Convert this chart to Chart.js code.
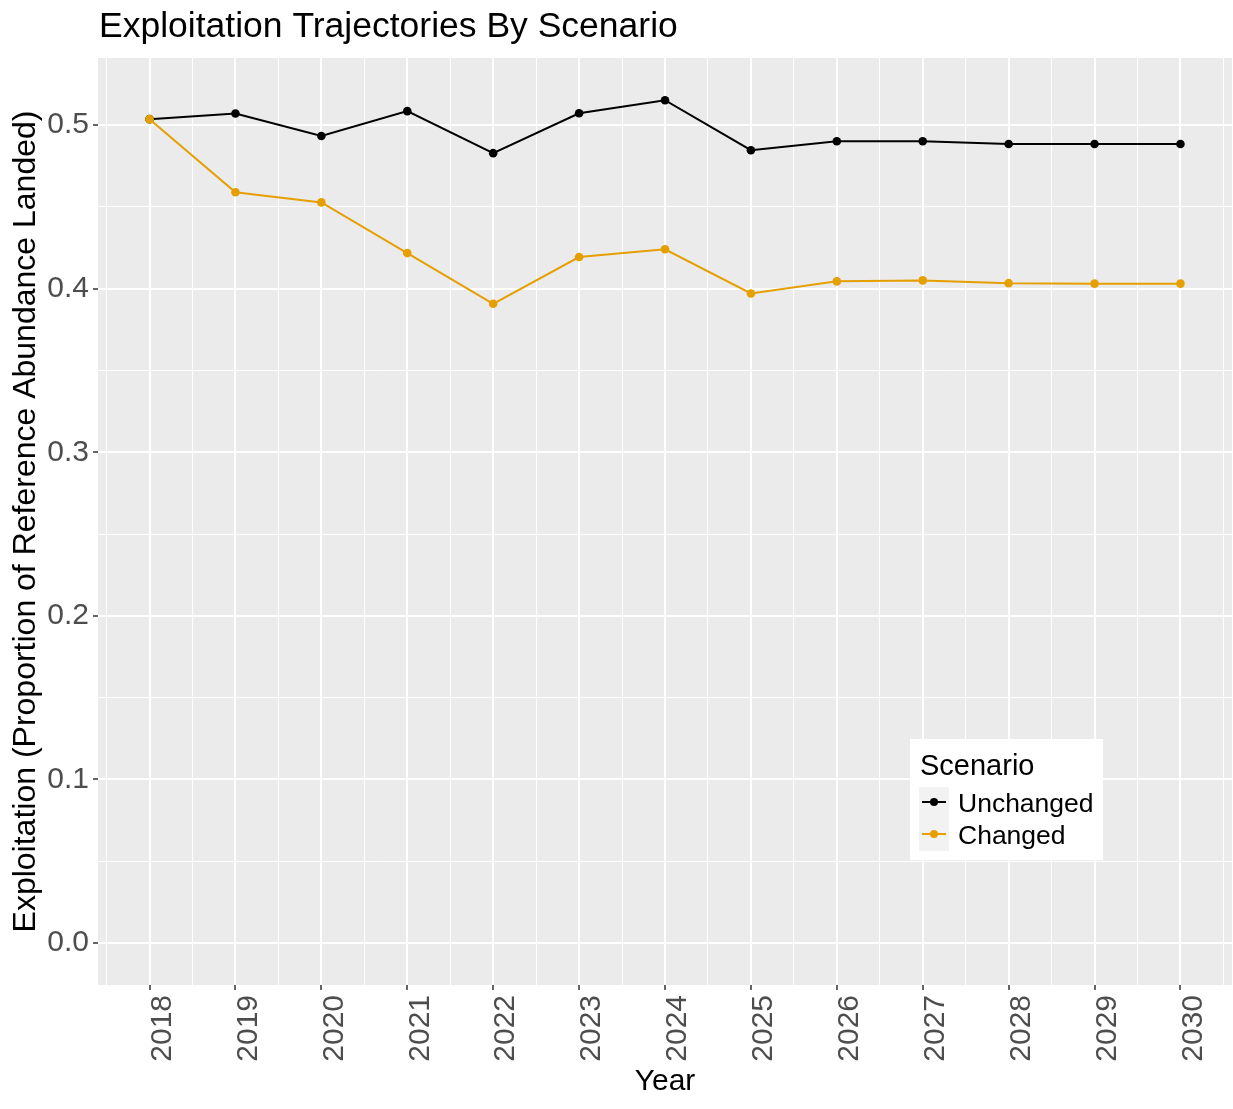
<!DOCTYPE html>
<html>
<head>
<meta charset="utf-8">
<title>Exploitation Trajectories By Scenario</title>
<script src="https://cdn.jsdelivr.net/npm/chart.js@4.4.1/dist/chart.umd.min.js"></script>
<style>
  body { margin: 0; background: #fff; overflow: hidden; }
  #wrap { width: 1233px; height: 1109px; }
  #chart { display: block; }
</style>
</head>
<body>
<div id="wrap"><canvas id="chart" width="1233" height="1109"></canvas></div>
<script>
// Data
const years = [2018, 2019, 2020, 2021, 2022, 2023, 2024, 2025, 2026, 2027, 2028, 2029, 2030];
const unchanged = [0.5037, 0.5072, 0.4934, 0.5086, 0.4829, 0.5073, 0.5153, 0.4847, 0.4902, 0.4902, 0.4885, 0.4885, 0.4885];
const changed = [0.5037, 0.4590, 0.4528, 0.4218, 0.3908, 0.4194, 0.4241, 0.3971, 0.4045, 0.4051, 0.4034, 0.4031, 0.4031];
const yTicks = [0, 0.1, 0.2, 0.3, 0.4, 0.5];
const seriesNames = ['Unchanged', 'Changed'];
const seriesColors = ['#000000', '#E69F00'];

const FONT = "'Liberation Sans', Arial, Helvetica, sans-serif";

function toPoints(values) {
    return years.map((y, i) => ({ x: y, y: values[i] }));
}

// major ticks plus the midpoints between them (ggplot minor grid)
function withMinors(majors, extraEnds) {
    const out = [];
    majors.forEach((v, i) => {
        if (i > 0) out.push((majors[i - 1] + v) / 2);
        out.push(v);
    });
    if (extraEnds) {
        const step = majors[1] - majors[0];
        out.unshift(majors[0] - step / 2);
        out.push(majors[majors.length - 1] + step / 2);
    }
    return out;
}

const isMajor = (v, majors) => majors.some(m => Math.abs(m - v) < 1e-6);

const panelBg = {
    id: 'panelBg',
    beforeDraw(chart) {
        const { ctx, chartArea: a } = chart;
        ctx.save();
        ctx.fillStyle = '#EBEBEB';
        ctx.fillRect(a.left, a.top, a.right - a.left, a.bottom - a.top);
        ctx.restore();
    }
};

// plot title (left aligned with the panel) and the in-panel legend
const extras = {
    id: 'extras',
    afterDraw(chart) {
        const ctx = chart.ctx;
        ctx.save();
        ctx.fillStyle = '#000';
        ctx.font = `35.5px ${FONT}`;
        ctx.textBaseline = 'alphabetic';
        ctx.textAlign = 'left';
        ctx.fillText('Exploitation Trajectories By Scenario', 99, 37);

        // legend box
        ctx.fillStyle = '#FFFFFF';
        ctx.fillRect(910, 739, 193, 121);
        ctx.fillStyle = '#000';
        ctx.font = `29px ${FONT}`;
        ctx.fillText('Scenario', 920, 775);
        ctx.fillStyle = '#F2F2F2';
        ctx.fillRect(919, 787, 30, 64);

        ctx.font = `26.5px ${FONT}`;
        chart.data.datasets.forEach(ds => {
            const i = seriesNames.indexOf(ds.label);
            const cy = 802 + i * 32;
            ctx.strokeStyle = ds.borderColor;
            ctx.lineWidth = 2;
            ctx.beginPath();
            ctx.moveTo(922, cy);
            ctx.lineTo(946, cy);
            ctx.stroke();
            ctx.fillStyle = ds.borderColor;
            ctx.beginPath();
            ctx.arc(934, cy, 4, 0, Math.PI * 2);
            ctx.fill();
            ctx.fillStyle = '#000';
            ctx.fillText(ds.label, 958, cy + 10);
        });
        ctx.restore();
    }
};

const xTickValues = withMinors(years, true);
const yTickValues = withMinors(yTicks, false);

new Chart(document.getElementById('chart'), {
    type: 'line',
    data: {
        datasets: [
            {
                label: seriesNames[0],
                data: toPoints(unchanged),
                borderColor: seriesColors[0],
                backgroundColor: seriesColors[0],
                borderWidth: 2,
                pointRadius: 4.3,
                pointBorderWidth: 0,
                tension: 0,
                order: 1
            },
            {
                label: seriesNames[1],
                data: toPoints(changed),
                borderColor: seriesColors[1],
                backgroundColor: seriesColors[1],
                borderWidth: 2,
                pointRadius: 4.3,
                pointBorderWidth: 0,
                tension: 0,
                order: 0
            }
        ]
    },
    options: {
        responsive: false,
        animation: false,
        layout: { autoPadding: false, padding: { top: 58, right: 1, bottom: 0, left: 0 } },
        plugins: {
            legend: { display: false },
            title: { display: false },
            tooltip: { enabled: false }
        },
        scales: {
            x: {
                type: 'linear',
                min: 2017.4,
                max: 2030.6,
                afterBuildTicks: scale => { scale.ticks = xTickValues.map(v => ({ value: v })); },
                afterFit: scale => {
                    scale.height = 124;
                    scale.paddingLeft = 0;
                    scale.paddingRight = 0;
                },
                border: { display: false },
                grid: {
                    color: '#FFFFFF',
                    lineWidth: c => isMajor(c.tick.value, years) ? 2 : 1,
                    tickColor: c => isMajor(c.tick.value, years) ? '#333333' : 'rgba(0,0,0,0)',
                    tickLength: 5,
                    tickWidth: 1.5
                },
                ticks: {
                    autoSkip: false,
                    maxRotation: 90,
                    minRotation: 90,
                    padding: 5,
                    labelOffset: 13,
                    color: '#4D4D4D',
                    font: { family: FONT, size: 30 },
                    callback: v => isMajor(v, years) ? String(v) : ''
                },
                title: {
                    display: true,
                    text: 'Year',
                    color: '#000',
                    font: { family: FONT, size: 30 },
                    padding: { top: 0, bottom: 9 }
                }
            },
            y: {
                min: -0.0258,
                max: 0.5411,
                afterBuildTicks: scale => { scale.ticks = yTickValues.map(v => ({ value: v })); },
                afterFit: scale => {
                    scale.width = 98;
                    scale.paddingTop = 0;
                    scale.paddingBottom = 0;
                },
                border: { display: false },
                grid: {
                    color: '#FFFFFF',
                    lineWidth: c => isMajor(c.tick.value, yTicks) ? 2 : 1,
                    tickColor: c => isMajor(c.tick.value, yTicks) ? '#333333' : 'rgba(0,0,0,0)',
                    tickLength: 5,
                    tickWidth: 1.5
                },
                ticks: {
                    autoSkip: false,
                    padding: 4,
                    color: '#4D4D4D',
                    font: { family: FONT, size: 30 },
                    callback: v => isMajor(v, yTicks) ? v.toFixed(1) : ''
                },
                title: {
                    display: true,
                    text: 'Exploitation (Proportion of Reference Abundance Landed)',
                    color: '#000',
                    font: { family: FONT, size: 32 },
                    padding: { top: 7, bottom: 0 }
                }
            }
        }
    },
    plugins: [panelBg, extras]
});
</script>
</body>
</html>
